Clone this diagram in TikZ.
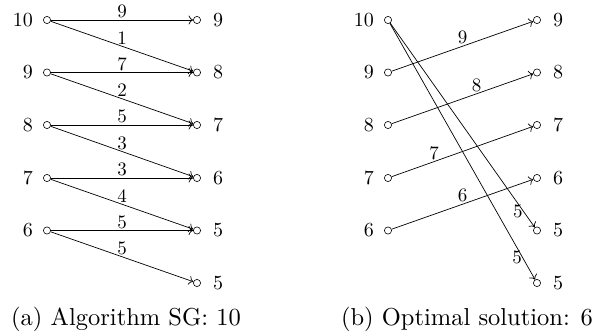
\documentclass[tikz,border=0pt]{standalone}
\usetikzlibrary{arrows.meta}
\begin{document}
\begin{tikzpicture}[x=1pt,y=-1pt,
  vtx/.style={circle,draw,inner sep=0pt,minimum size=7.2pt,line width=0.6pt},
  lbl/.style={inner sep=0pt},
  wlbl/.style={inner sep=1.5pt,above},
  slbl/.style={inner sep=0.3pt,left},
  edge/.style={-{To[length=4.5pt,width=9pt]},line width=0.7pt},
  captext/.style={inner sep=0pt}]
\newcommand{\lt}[1]{\scalebox{2.0}{#1}}
\newcommand{\et}[1]{\scalebox{1.9}{#1}}
\newcommand{\ct}[1]{\scalebox{2.45}{#1}}
\useasboundingbox (0,0) rectangle (595,336);
% panel (a)
\foreach \i/\y in {1/20,2/72.5,3/125,4/178,5/230.5}{
  \node[vtx] (aL\i) at (47,\y) {};
}
\foreach \i/\y in {1/20,2/72.5,3/125,4/178,5/230.5,6/283}{
  \node[vtx] (aR\i) at (197,\y) {};
}
\node[lbl,anchor=east] (taL1) at ([xshift=-10pt]aL1.west) {\lt{10}};
\node[lbl,anchor=east] (taL2) at ([xshift=-10pt]aL2.west) {\lt{9}};
\node[lbl,anchor=east] (taL3) at ([xshift=-10pt]aL3.west) {\lt{8}};
\node[lbl,anchor=east] (taL4) at ([xshift=-10pt]aL4.west) {\lt{7}};
\node[lbl,anchor=east] (taL5) at ([xshift=-10pt]aL5.west) {\lt{6}};
\node[lbl,anchor=west] (taR1) at ([xshift=12pt]aR1.east) {\lt{9}};
\node[lbl,anchor=west] (taR2) at ([xshift=12pt]aR2.east) {\lt{8}};
\node[lbl,anchor=west] (taR3) at ([xshift=12pt]aR3.east) {\lt{7}};
\node[lbl,anchor=west] (taR4) at ([xshift=12pt]aR4.east) {\lt{6}};
\node[lbl,anchor=west] (taR5) at ([xshift=12pt]aR5.east) {\lt{5}};
\node[lbl,anchor=west] (taR6) at ([xshift=12pt]aR6.east) {\lt{5}};
\draw[edge] (aL1) -- node[wlbl] {\et{9}} (aR1);
\draw[edge] (aL1) -- node[wlbl] {\et{1}} (aR2);
\draw[edge] (aL2) -- node[wlbl] {\et{7}} (aR2);
\draw[edge] (aL2) -- node[wlbl] {\et{2}} (aR3);
\draw[edge] (aL3) -- node[wlbl] {\et{5}} (aR3);
\draw[edge] (aL3) -- node[wlbl] {\et{3}} (aR4);
\draw[edge] (aL4) -- node[wlbl] {\et{3}} (aR4);
\draw[edge] (aL4) -- node[wlbl] {\et{4}} (aR5);
\draw[edge] (aL5) -- node[wlbl] {\et{5}} (aR5);
\draw[edge] (aL5) -- node[wlbl] {\et{5}} (aR6);
\node[captext] (capa) at (126,319) {\ct{(a) Algorithm SG: 10}};
% panel (b)
\foreach \i/\y in {1/20,2/72.5,3/125,4/178,5/230.5}{
  \node[vtx] (bL\i) at (388,\y) {};
}
\foreach \i/\y in {1/20,2/72.5,3/125,4/178,5/230.5,6/283}{
  \node[vtx] (bR\i) at (537,\y) {};
}
\node[lbl,anchor=east] (tbL1) at ([xshift=-10pt]bL1.west) {\lt{10}};
\node[lbl,anchor=east] (tbL2) at ([xshift=-10pt]bL2.west) {\lt{9}};
\node[lbl,anchor=east] (tbL3) at ([xshift=-10pt]bL3.west) {\lt{8}};
\node[lbl,anchor=east] (tbL4) at ([xshift=-10pt]bL4.west) {\lt{7}};
\node[lbl,anchor=east] (tbL5) at ([xshift=-10pt]bL5.west) {\lt{6}};
\node[lbl,anchor=west] (tbR1) at ([xshift=12pt]bR1.east) {\lt{9}};
\node[lbl,anchor=west] (tbR2) at ([xshift=12pt]bR2.east) {\lt{8}};
\node[lbl,anchor=west] (tbR3) at ([xshift=12pt]bR3.east) {\lt{7}};
\node[lbl,anchor=west] (tbR4) at ([xshift=12pt]bR4.east) {\lt{6}};
\node[lbl,anchor=west] (tbR5) at ([xshift=12pt]bR5.east) {\lt{5}};
\node[lbl,anchor=west] (tbR6) at ([xshift=12pt]bR6.east) {\lt{5}};
\draw[edge] (bL2) -- node[wlbl] {\et{9}} (bR1);
\draw[edge] (bL3) -- node[wlbl,pos=0.6] {\et{8}} (bR2);
\draw[edge] (bL4) -- node[wlbl,pos=0.3] {\et{7}} (bR3);
\draw[edge] (bL5) -- node[wlbl] {\et{6}} (bR4);
\draw[edge] (bL1) -- node[slbl,pos=0.92] {\et{5}} (bR5);
\draw[edge] (bL1) -- node[slbl,pos=0.913] {\et{5}} (bR6);
\node[captext] (capb) at (467,319) {\ct{(b) Optimal solution: 6}};
\end{tikzpicture}
\end{document}
